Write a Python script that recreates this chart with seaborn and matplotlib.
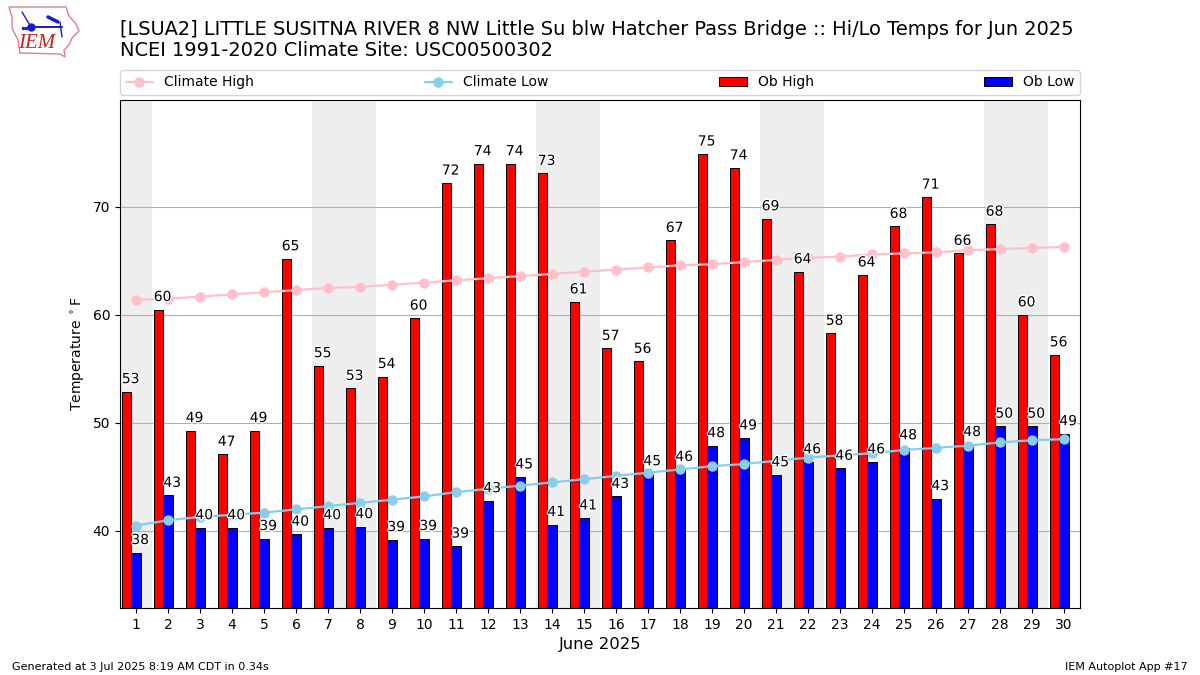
import matplotlib
matplotlib.use("Agg")
import matplotlib.pyplot as plt
import matplotlib.patheffects as pe
from matplotlib.lines import Line2D
from matplotlib.patches import Patch, Polygon
import pandas as pd
import seaborn as sns

days = list(range(1, 31))
ob_high = [52.9, 60.5, 49.3, 47.1, 49.3, 65.2, 55.3, 53.2, 54.3, 59.7, 72.2, 74.0, 74.0, 73.1, 61.2,
           56.9, 55.7, 66.9, 74.9, 73.6, 68.9, 64.0, 58.3, 63.7, 68.2, 70.9, 65.7, 68.4, 60.0, 56.3]
ob_low = [38.0, 43.3, 40.3, 40.3, 39.3, 39.7, 40.3, 40.4, 39.2, 39.3, 38.6, 42.8, 45.0, 40.6, 41.2,
          43.2, 45.3, 45.7, 47.9, 48.6, 45.2, 46.4, 45.8, 46.4, 47.7, 43.0, 48.0, 49.7, 49.7, 49.0]
high_labels = [53, 60, 49, 47, 49, 65, 55, 53, 54, 60, 72, 74, 74, 73, 61,
               57, 56, 67, 75, 74, 69, 64, 58, 64, 68, 71, 66, 68, 60, 56]
low_labels = [38, 43, 40, 40, 39, 40, 40, 40, 39, 39, 39, 43, 45, 41, 41,
              43, 45, 46, 48, 49, 45, 46, 46, 46, 48, 43, 48, 50, 50, 49]
climate_high = [61.4, 61.5, 61.7, 61.9, 62.1, 62.3, 62.5, 62.6, 62.8, 63.0, 63.2, 63.4, 63.6, 63.8, 64.0,
                64.2, 64.4, 64.6, 64.7, 64.9, 65.1, 65.3, 65.4, 65.6, 65.7, 65.8, 66.0, 66.1, 66.2, 66.3]
climate_low = [40.5, 41.0, 41.3, 41.5, 41.7, 42.0, 42.3, 42.6, 42.9, 43.2, 43.6, 43.9, 44.2, 44.5, 44.8,
               45.1, 45.4, 45.7, 46.0, 46.2, 46.5, 46.8, 47.0, 47.2, 47.5, 47.7, 47.9, 48.2, 48.4, 48.5]
weekend_days = [1, 7, 8, 14, 15, 21, 22, 28, 29]

sns.set_theme(style="white", rc={"axes.edgecolor": "black", "xtick.bottom": True, "ytick.left": True,
                                 "xtick.color": "black", "ytick.color": "black", "text.color": "black",
                                 "axes.labelcolor": "black"})
plt.rcParams["font.family"] = ["DejaVu Sans"]

W, H = 1200, 675
fig = plt.figure(figsize=(12, 6.75), dpi=100)
ax = fig.add_axes([120 / W, 1 - 608 / H, (1080 - 120) / W, (608 - 100) / H])

# The reference's bar pairs sit left of each tick: the low bar is centred on the day.
BAR_SHIFT = -0.15
bars = pd.DataFrame({
    "pos": [d + BAR_SHIFT for d in days] * 2,
    "temp": ob_high + ob_low,
    "kind": ["Ob High"] * 30 + ["Ob Low"] * 30,
})
sns.barplot(data=bars, x="pos", y="temp", hue="kind", native_scale=True, width=0.6, gap=0,
            palette={"Ob High": "red", "Ob Low": "blue"}, saturation=1,
            edgecolor="black", linewidth=0.7, legend=False, zorder=2, ax=ax)
sns.lineplot(x=days, y=climate_high, color="pink", marker="o", markersize=7.5, markeredgewidth=0,
             linewidth=1.6, zorder=3, ax=ax)
sns.lineplot(x=days, y=climate_low, color="skyblue", marker="o", markersize=7.5, markeredgewidth=0,
             linewidth=1.6, zorder=3, ax=ax)

for d in weekend_days:
    ax.axvspan(d - 0.5, d + 0.5, color="#eeeeee", lw=0, zorder=0)

halo = [pe.withStroke(linewidth=2, foreground="white")]
for d, h, hl, l, ll in zip(days, ob_high, high_labels, ob_low, low_labels):
    for xoff, val, lab in ((-0.3, h, hl), (0.0, l, ll)):
        ax.annotate(str(lab), (d + xoff, val), xytext=(3, 4), textcoords="offset points",
                    ha="center", va="bottom", fontsize=10, path_effects=halo, zorder=5)

ax.set_xlim(0.5, 30.5)
ax.set_ylim(32.87, 79.9)
ax.set_xticks(days)
ax.set_xticklabels([str(d) for d in days])
ax.set_yticks([40, 50, 60, 70])
ax.tick_params(axis="both", labelsize=10, length=3.5, width=0.8, pad=3.5)
ax.yaxis.grid(True, color="#b0b0b0", linewidth=0.8, zorder=1)
ax.xaxis.grid(False)
ax.set_axisbelow(True)
for s in ax.spines.values():
    s.set_linewidth(0.8)
    s.set_color("black")
ax.set_xlabel("June 2025", fontsize=11.8, labelpad=4)
ax.set_ylabel(r"Temperature $^\circ$F", fontsize=10, labelpad=4)

handles = [
    Line2D([], [], color="pink", marker="o", markersize=7.5, markeredgewidth=0, linewidth=1.6),
    Line2D([], [], color="skyblue", marker="o", markersize=7.5, markeredgewidth=0, linewidth=1.6),
    Patch(facecolor="red", edgecolor="black", linewidth=0.7),
    Patch(facecolor="blue", edgecolor="black", linewidth=0.7),
]
ax.legend(handles, ["Climate High", "Climate Low", "Ob High", "Ob Low"], ncol=4, mode="expand",
          loc="lower left", bbox_to_anchor=(0, 1.01, 1, 0.05), borderaxespad=0, fontsize=10, frameon=True,
          edgecolor="#cccccc", facecolor="white", framealpha=0.8)

fig.text(120 / W, 1 - 35 / H,
         "[LSUA2] LITTLE SUSITNA RIVER 8 NW Little Su blw Hatcher Pass Bridge :: Hi/Lo Temps for Jun 2025",
         fontsize=13.99, ha="left", va="baseline")
fig.text(120 / W, 1 - 56 / H, "NCEI 1991-2020 Climate Site: USC00500302", fontsize=13.99, ha="left", va="baseline")
fig.text(12 / W, 1 - 670 / H, "Generated at 3 Jul 2025 8:19 AM CDT in 0.34s", fontsize=8, ha="left", va="baseline")
fig.text(1188 / W, 1 - 670 / H, "IEM Autoplot App #17", fontsize=8, ha="right", va="baseline")

# IEM logo, drawn in figure pixel coordinates
logo = fig.add_axes([0, 1 - 60 / H, 85 / W, 60 / H])
logo.set_xlim(0, 85)
logo.set_ylim(60, 0)
logo.axis("off")
logo.add_patch(Polygon([(9, 7), (66, 7), (69, 16), (76, 24), (79, 31), (72, 38), (69, 45), (64, 50),
                        (65, 57), (60, 54), (20, 53), (18, 40), (12, 28), (12, 17)],
                       closed=True, fill=False, edgecolor="#e08080", linewidth=1))
logo.plot([31, 62], [27, 27], color="#1a1ad0", lw=1.4)
logo.plot([31], [27], "o", color="#1a1ad0", ms=5)
logo.plot([22, 31], [12, 27], color="#1a1ad0", lw=1)
logo.plot([48, 58], [17, 22], color="#1a1ad0", lw=2.5)
logo.plot([60, 62], [22, 37], color="#1a1ad0", lw=1)
logo.plot([23, 26], [28, 28], "o", color="#1a1ad0", ms=1.5)
logo.text(37, 44, "IEM", color="#d02020", fontsize=15, family="Liberation Serif", style="italic",
          ha="center", va="center")

fig.savefig("out.png", dpi=100)
